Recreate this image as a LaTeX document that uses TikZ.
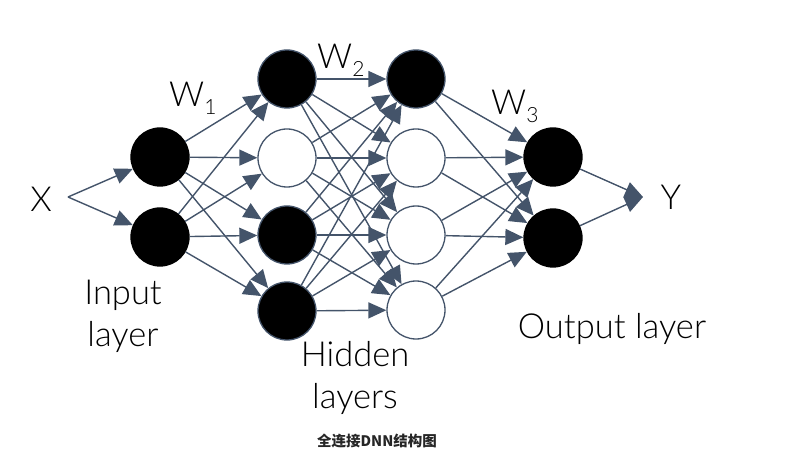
\documentclass[tikz,border=0pt]{standalone}
\usepackage{fontspec}
\setmainfont{Lato}[UprightFont=* Light]
\newfontfamily\cjk{Noto Sans CJK SC}
\usetikzlibrary{arrows.meta}
\definecolor{slate}{HTML}{44546A}
\newcommand{\wsub}[1]{W\raisebox{-8pt}{\fontsize{21}{21}\selectfont #1}}
\begin{document}
\begin{tikzpicture}[x=1pt,y=-1pt,
  neuron/.style={circle,minimum size=58pt,inner sep=0pt,line width=1.3pt},
  blackn/.style={neuron,fill=black,draw=slate},
  whiten/.style={neuron,fill=white,draw=slate},
  conn/.style={draw=slate,line width=1.4pt,-{Triangle[length=18pt,width=16pt]}},
  lbl/.style={font=\fontsize{34.5}{42}\selectfont,inner sep=0pt,align=center}]
\useasboundingbox (0,0) rectangle (792,462);
% input layer
\node[blackn,draw=black] (i1) at (160,157) {};
\node[blackn,draw=black] (i2) at (160,237) {};
% hidden layer 1
\node[blackn] (a1) at (287,79) {};
\node[whiten] (a2) at (287,158) {};
\node[blackn] (a3) at (287,235) {};
\node[blackn] (a4) at (287,311) {};
% hidden layer 2
\node[blackn] (b1) at (416,79) {};
\node[whiten] (b2) at (416,158) {};
\node[whiten] (b3) at (416,235) {};
\node[whiten] (b4) at (416,310) {};
% output layer
\node[blackn,draw=black] (o1) at (553,157) {};
\node[blackn,draw=black] (o2) at (553,238) {};
% free ends
\coordinate (xin) at (68,197);
\coordinate (yout) at (643,197);
% connectors
\foreach \t in {i1,i2} \draw[conn] (xin) -- (\t);
\foreach \s in {i1,i2} \foreach \t in {a1,a2,a3,a4} \draw[conn] (\s) -- (\t);
\foreach \s in {a1,a2,a3,a4} \foreach \t in {b1,b2,b3,b4} \draw[conn] (\s) -- (\t);
\foreach \s in {b1,b2,b3,b4} \foreach \t in {o1,o2} \draw[conn] (\s) -- (\t);
\foreach \s in {o1,o2} \draw[conn] (\s) -- (yout);
% labels
\node[lbl,anchor=base] (lx) at (41,212) {X};
\node[lbl,anchor=base] (ly) at (671,210) {Y};
\node[lbl,anchor=base west] (w1) at (169,107) {\wsub{1}};
\node[lbl,anchor=base west] (w2) at (317,69) {\wsub{2}};
\node[lbl,anchor=base west] (w3) at (491,115) {\wsub{3}};
\node[lbl] (lin) at (123,316) {Input\\layer};
\node[lbl] (lhid) at (355,378) {Hidden\\layers};
\node[lbl,anchor=base] (lout) at (612,338) {Output layer};
\node[font=\cjk\bfseries\fontsize{14.5}{14.5}\selectfont,text=black!85] (cap) at (377,441) {全连接DNN结构图};
\end{tikzpicture}
\end{document}
